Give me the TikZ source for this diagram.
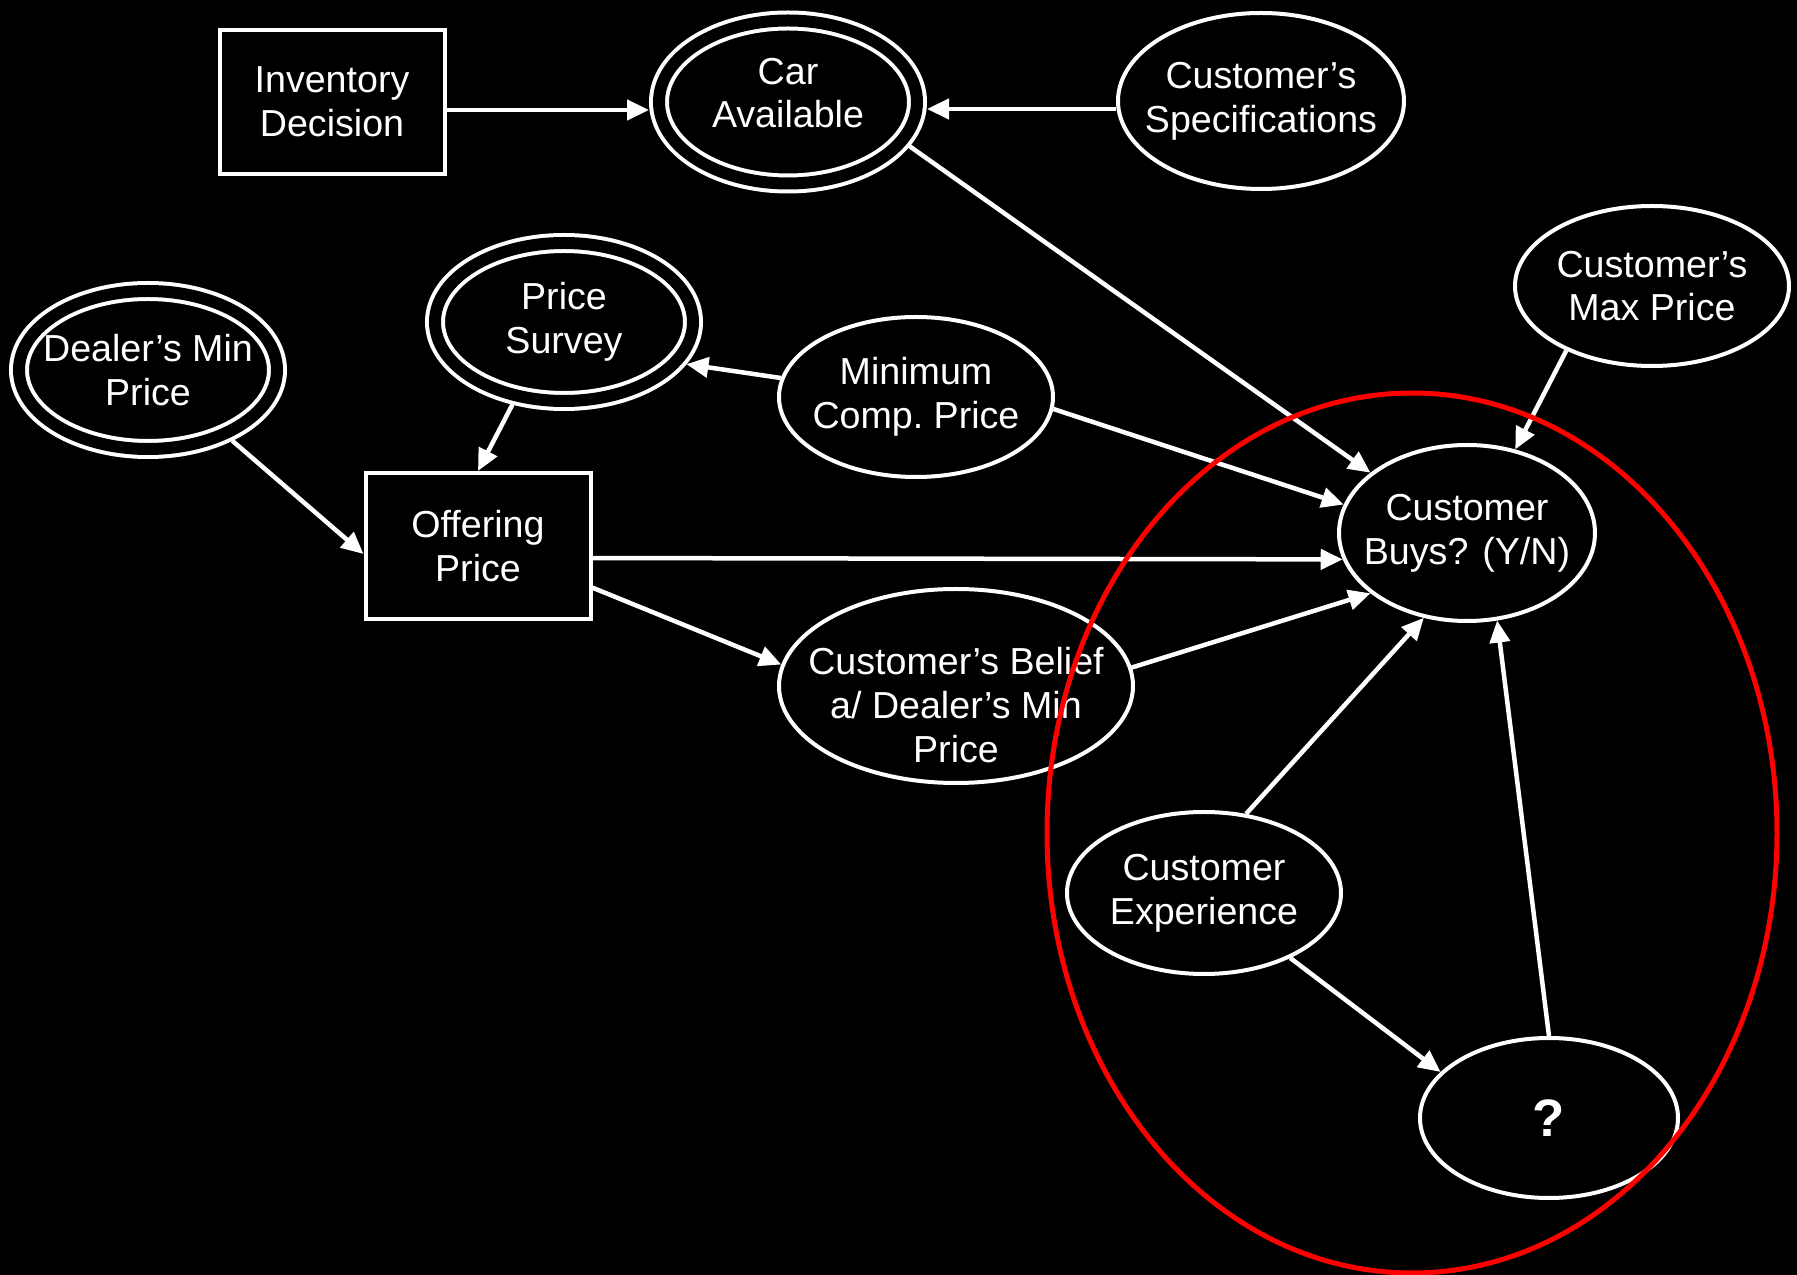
\documentclass[tikz,border=0pt]{standalone}
\usepackage{fontspec}
\setmainfont{Liberation Sans}
\usetikzlibrary{shapes, arrows.meta}

\begin{document}
\begin{tikzpicture}[
    txt/.style={text=white, align=center, font=\fontsize{10.7}{12.4}\selectfont},
    oval/.style={txt, ellipse, draw=white, line width=0.04cm, inner xsep=-0.3cm, inner ysep=0pt},
    dbloval/.style={oval, double=black, double distance=0.12cm, outer sep=0.1cm},
    box/.style={txt, rectangle, draw=white, line width=0.04cm, minimum width=2.25cm},
    arr/.style={-{Triangle[length=0.22cm, width=0.2cm]}, white, line width=0.045cm}
]

    % Background
    \fill[black] (0,0) rectangle (17.97,12.75);
    \useasboundingbox (0,0) rectangle (17.97,12.75);

    % Decisions
    \node[box, minimum height=1.44cm] (inv) at (3.32, 11.73) {Inventory\\Decision};
    \node[box, minimum height=1.46cm] (offer) at (4.78, 7.29) {Offering\\Price};

    % Known values
    \node[dbloval, minimum width=2.58cm, minimum height=1.63cm] (car) at (7.88, 11.73) {};
    \node[txt] (cartxt) at (7.88, 11.82) {Car\\Available};
    \node[dbloval, minimum width=2.58cm, minimum height=1.58cm] (survey) at (5.64, 9.53) {Price\\Survey};
    \node[dbloval, minimum width=2.58cm, minimum height=1.58cm] (dealer) at (1.48, 9.05) {Dealer’s Min\\Price};

    % Chance
    \node[oval, minimum width=2.86cm, minimum height=1.76cm] (spec) at (12.61, 11.74) {Customer’s\\Specifications};
    \node[oval, minimum width=2.74cm, minimum height=1.60cm] (maxp) at (16.52, 9.89) {Customer’s\\Max Price};
    \node[oval, minimum width=2.74cm, minimum height=1.60cm] (mincomp) at (9.16, 8.78) {Minimum\\Comp.\ Price};
    \node[oval, minimum width=2.56cm, minimum height=1.76cm] (buys) at (14.67, 7.42) {Customer\\Buys? (Y/N)};
    \node[oval, minimum width=3.54cm, minimum height=1.94cm] (belief) at (9.56, 5.89) {};
    \node[txt] (belieftxt) at (9.56, 5.70) {Customer’s Belief\\a/ Dealer’s Min\\Price};
    \node[oval, minimum width=2.74cm, minimum height=1.62cm] (exper) at (12.04, 3.82) {Customer\\Experience};
    \node[oval, minimum width=2.58cm, minimum height=1.60cm, font=\fontsize{15}{17}\selectfont\bfseries] (q) at (15.49, 1.57) {?};

    % Arrows
    \draw[arr] ([yshift=-0.08cm]inv.east) -- ([yshift=-0.08cm]inv.east -| car.west);
    \draw[arr] ([yshift=-0.08cm]spec.west) -- ([yshift=-0.08cm]spec.west -| car.east);
    \draw[arr] (car.-20) -- (buys.148);
    \draw[arr] (maxp.-143) -- (buys.60);
    \draw[arr] (mincomp.172) -- (survey.-19);
    \draw[arr] (mincomp.-5) -- (buys.167);
    \draw[arr] (survey.-122) -- (offer.north);
    \draw[arr] (dealer.-40) -- (offer.184);
    \draw[arr] (offer.-6) -- (buys.192);
    \draw[arr] (offer.-20) -- (belief.173);
    \draw[arr] (belief.6) -- (buys.212);
    \draw[arr] (exper.62) -- (buys.243);
    \draw[arr] (exper.-37) -- (q.157);
    \draw[arr] (q.north) -- (buys.-71);

    % Red ring
    \draw[red, line width=0.05cm] (14.12, 4.42) ellipse (3.65 and 4.40);

\end{tikzpicture}
\end{document}
